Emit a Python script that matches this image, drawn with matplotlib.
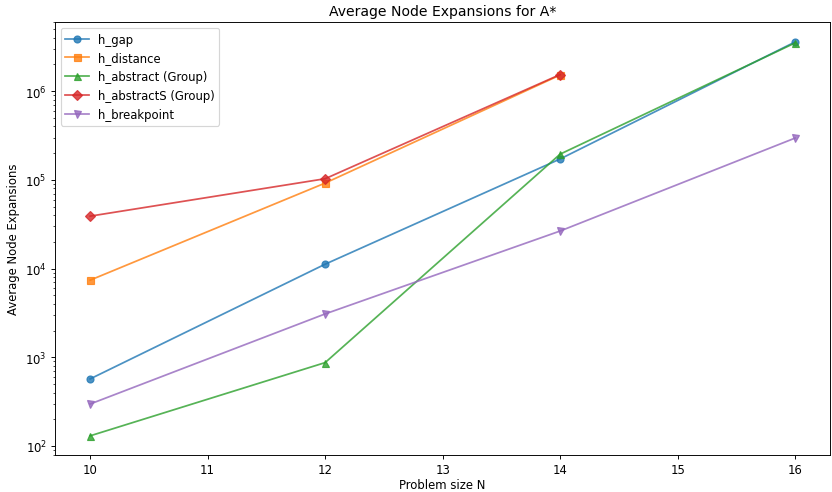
import matplotlib
matplotlib.use("Agg")
import matplotlib.pyplot as plt

sizes_gap = [10, 12, 14, 16]
h_gap = [570, 11200, 172000, 3590000]

sizes_distance = [10, 12, 14]
h_distance = [7400, 92000, 1520000]

sizes_abstract = [10, 12, 14, 16]
h_abstract = [130, 870, 195000, 3500000]

sizes_abstractS = [10, 12, 14]
h_abstractS = [39000, 103000, 1540000]

sizes_breakpoint = [10, 12, 14, 16]
h_breakpoint = [297, 3080, 26500, 296000]

# picture looks like a bigger figure shown scaled down, so use a lower dpi
dpi = 84
fig = plt.figure(figsize=(832 / dpi, 493 / dpi), dpi=dpi)
ax = fig.add_axes([0.066, 0.076, 0.932, 0.877])

ax.plot(sizes_gap, h_gap, marker='o', alpha=0.8, label='h_gap')
ax.plot(sizes_distance, h_distance, marker='s', alpha=0.8, label='h_distance')
ax.plot(sizes_abstract, h_abstract, marker='^', alpha=0.8, label='h_abstract (Group)')
ax.plot(sizes_abstractS, h_abstractS, marker='D', alpha=0.8, label='h_abstractS (Group)')
ax.plot(sizes_breakpoint, h_breakpoint, marker='v', alpha=0.8, label='h_breakpoint')

ax.set_yscale('log')
ax.set_ylim(80, 6.0e6)
ax.set_xlim(9.7, 16.3)
ax.set_xlabel('Problem size N', labelpad=2)
ax.set_ylabel('Average Node Expansions')
ax.set_title('Average Node Expansions for A*')
ax.legend(loc='upper left')

fig.savefig('out.png', dpi=dpi)
